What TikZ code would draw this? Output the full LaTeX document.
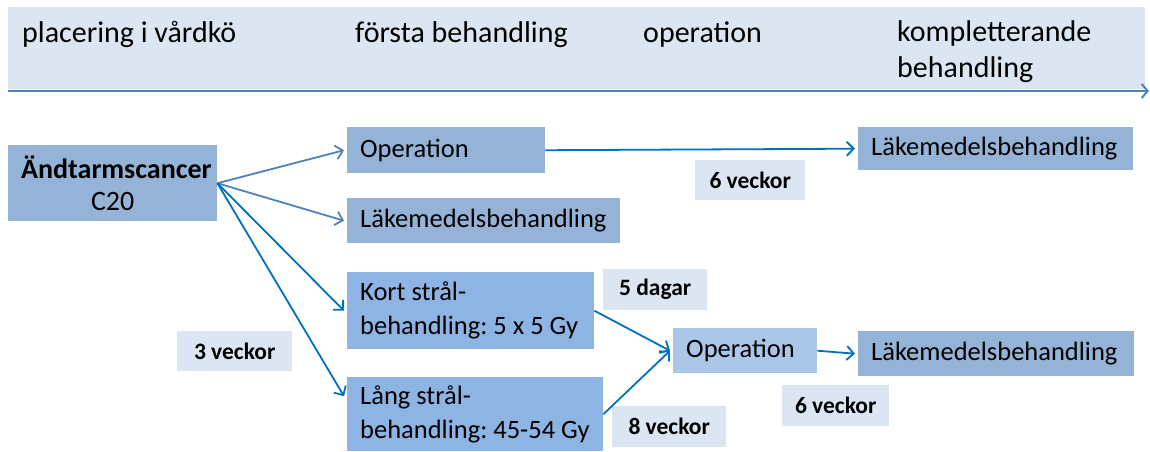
\documentclass[tikz,border=0pt]{standalone}
\usepackage{fontspec}
\setmainfont{Carlito}
\usetikzlibrary{arrows.meta}
\frenchspacing
\definecolor{bandblue}{HTML}{DCE6F2}
\definecolor{boxblue}{HTML}{95B3D7}
\definecolor{raybox}{HTML}{8DB4E2}
\definecolor{opbox}{HTML}{AAC7E7}
\definecolor{axisblue}{HTML}{4F81BD}
\definecolor{linkblue}{HTML}{0070C0}
\tikzset{
  box/.style={fill=boxblue, anchor=north west, inner xsep=13pt, inner ysep=0pt, align=flush left, font=\fontsize{26.5}{34}\selectfont},
  tag/.style={fill=bandblue, anchor=north west, inner sep=0pt, align=center, font=\bfseries\fontsize{23.5}{28}\selectfont},
  head/.style={anchor=base west, inner sep=0pt, align=flush left, font=\fontsize{30}{36}\selectfont},
  link/.style={draw=linkblue, line width=1.8pt, -{Straight Barb[length=7pt,width=14pt]}},
}
\begin{document}
\begin{tikzpicture}[x=1pt,y=-1pt]
\useasboundingbox (0,0) rectangle (1150,451);
\fill[bandblue] (8,7) rectangle (1145,89);
\coordinate (axisL) at (8,91);
\coordinate (axisR) at (1149,91);
\draw[axisblue, line width=2pt, -{Straight Barb[length=6pt,width=14pt]}] (axisL) -- (axisR);
\node[head] (h1) at (22,42) {placering i vårdkö};
\node[head] (h2) at (355,42) {första behandling};
\node[head] (h3) at (643,42) {operation};
\node[head, anchor=north west] (h4) at (897,20) {kompletterande\\behandling};

\node[box, align=center, text width=183pt, minimum height=76pt, font=\fontsize{28}{33}\selectfont] (cancer) at (8,145) {\textbf{Ändtarmscancer}\\[-1pt]C20};
\node[box, text width=172pt, minimum height=46pt] (op1) at (347,127) {Operation};
\node[box, text width=247pt, minimum height=45pt] (lak1) at (347,198) {Läkemedelsbehandling};
\node[box, fill=raybox, text width=221pt, minimum height=77pt] (kort) at (347,272) {Kort strål-\\\mbox{behandling: 5 x 5 Gy}};
\node[box, fill=raybox, text width=230pt, minimum height=74pt] (lang) at (347,377) {Lång strål-\\\mbox{behandling: 45-54 Gy}};
\node[box, fill=opbox, text width=118pt, minimum height=45pt] (op2) at (673,328) {Operation};
\node[box, text width=249pt, minimum height=43pt] (lak2) at (858,127) {Läkemedelsbehandling};
\node[box, text width=250pt, minimum height=45pt] (lak3) at (858,331) {Läkemedelsbehandling};

\node[tag, minimum width=110pt, minimum height=40pt] (w6a) at (695,160) {6 veckor};
\node[tag, minimum width=104pt, minimum height=41pt] (d5) at (603,269) {5 dagar};
\node[tag, minimum width=115pt, minimum height=40pt] (w3) at (177,331) {3 veckor};
\node[tag, minimum width=114pt, minimum height=41pt] (w8) at (612,406) {8 veckor};
\node[tag, minimum width=107pt, minimum height=41pt] (w6b) at (782,385) {6 veckor};

\draw[link, draw=axisblue] (cancer.east) -- ([xshift=-3pt]op1.west);
\draw[link, draw=axisblue] (cancer.east) -- ([xshift=-3pt]lak1.west);
\draw[link] (cancer.east) -- ([xshift=-3pt]kort.west);
\draw[link] (cancer.east) -- ([xshift=-3pt,yshift=18pt]lang.west);
\draw[link] (op1.east) -- ([xshift=-3pt]lak2.west);
\draw[link] (kort.east) -- ([xshift=-3pt]op2.west);
\draw[link] (lang.east) -- ([xshift=-3pt]op2.west);
\draw[link] (op2.east) -- ([xshift=-3pt]lak3.west);
\end{tikzpicture}
\end{document}
